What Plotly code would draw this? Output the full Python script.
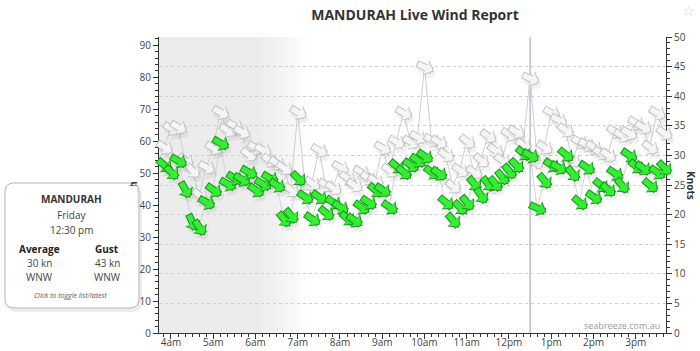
import math
import pandas as pd
import plotly.graph_objects as go

# ---------------- data ----------------
station = "MANDURAH"
chart_title = "MANDURAH Live Wind Report"
day_name = "Friday"
times = pd.date_range("2024-03-01 03:50", periods=72, freq="10min")

avg_kn = [28.4, 27.2, 29.1, 24.3, 18.8, 17.9, 22.1, 24.2, 32.1, 25.2,
          26.2, 26.0, 27.2, 24.2, 25.2, 26.2, 25.0, 19.3, 19.9, 26.2,
          23.0, 19.3, 23.0, 20.3, 22.1, 21.3, 19.4, 19.1, 21.3, 22.1,
          24.2, 24.2, 21.3, 28.2, 27.2, 28.4, 29.2, 29.9, 27.2, 27.0,
          22.1, 19.1, 21.3, 22.1, 25.3, 23.3, 25.3, 25.3, 26.4, 27.4,
          28.4, 30.4, 30.0, 21.1, 25.8, 28.4, 28.0, 30.2, 27.0, 22.1,
          28.0, 23.0, 25.0, 24.3, 27.0, 25.0, 30.1, 28.2, 27.9, 25.0,
          27.2, 28.0]

gust_kn = [31.4, 34.6, 34.8, 29.2, 27.5, 23.3, 28.0, 31.3, 37.3, 34.3,
           35.0, 34.0, 30.2, 31.3, 30.9, 29.2, 28.7, 27.9, 24.2, 37.3,
           25.3, 25.3, 30.9, 25.0, 24.5, 28.0, 26.2, 25.0, 27.2, 26.2,
           25.7, 31.3, 27.5, 32.3, 37.2, 32.3, 33.1, 44.9, 32.6, 32.3,
           30.1, 24.8, 27.5, 32.4, 27.2, 29.2, 33.3, 30.9, 29.2, 33.6,
           34.0, 31.8, 43.0, 29.2, 31.4, 37.2, 36.0, 34.3, 29.2, 32.3,
           31.8, 31.4, 30.4, 30.1, 34.1, 33.4, 33.8, 35.5, 34.8, 31.4,
           37.2, 33.8]

# direction the wind blows FROM (degrees)
avg_from = [310, 315, 300, 330, 335, 325, 300, 305, 300, 300,
            300, 300, 300, 305, 300, 300, 305, 320, 320, 315,
            305, 305, 305, 310, 305, 305, 310, 305, 305, 305,
            310, 305, 305, 310, 310, 305, 305, 305, 305, 305,
            310, 320, 315, 320, 320, 325, 320, 320, 320, 320,
            315, 310, 300, 295, 320, 305, 300, 310, 320, 310,
            305, 305, 310, 310, 305, 320, 305, 310, 305, 310,
            305, 315]
gust_from = [305, 300, 300, 310, 315, 310, 300, 300, 300, 300,
             300, 300, 305, 300, 300, 305, 305, 305, 310, 300,
             305, 305, 300, 305, 305, 300, 305, 305, 300, 305,
             305, 300, 305, 300, 300, 300, 300, 295, 300, 300,
             305, 310, 305, 310, 305, 310, 305, 305, 305, 300,
             300, 305, 295, 340, 305, 300, 300, 305, 305, 300,
             300, 305, 305, 305, 300, 300, 300, 300, 300, 305,
             300, 305]

hour_ticks = pd.date_range("2024-03-01 04:00", periods=12, freq="h")
hour_labels = ["4am", "5am", "6am", "7am", "8am", "9am", "10am", "11am",
               "12pm", "1pm", "2pm", "3pm"]
sel_index = 52          # 12:30 pm, the highlighted reading
sel_time_label = "12:30 pm"
sel_avg_dir = "WNW"
sel_gust_dir = "WNW"
KMH_PER_KNOT = 1.852
x_range = ["2024-03-01 03:43", "2024-03-01 15:43"]
night_solid_end = "2024-03-01 06:10"
night_fade_end = "2024-03-01 07:20"

# ---------------- layout geometry ----------------
W, H = 700, 351
ML, MR, MT, MB = 159, 34, 37, 18
PW, PH = W - ML - MR, H - MT - MB
FONT = "Open Sans"


def px(x):
    return (x - ML) / PW


def py(y):
    return (H - MB - y) / PH


def tstr(t):
    return pd.Timestamp(t).strftime("%Y-%m-%d %H:%M:%S")


fig = go.Figure()

# connecting lines
fig.add_trace(go.Scatter(x=times, y=gust_kn, mode="lines",
                         line=dict(color="#cfcfcf", width=1),
                         hoverinfo="skip", yaxis="y"))
fig.add_trace(go.Scatter(x=times, y=avg_kn, mode="lines",
                         line=dict(color="#d4d4d4", width=1),
                         hoverinfo="skip", yaxis="y"))
# km/h twin (invisible, just carries the left axis)
fig.add_trace(go.Scatter(x=times, y=[v * KMH_PER_KNOT for v in avg_kn],
                         mode="markers", marker=dict(opacity=0),
                         hoverinfo="skip", yaxis="y2"))

annotations = []


def arrow_annots(vals, dirs, fill, edge, shadow, L=20):
    out = []
    for t, v, d in zip(times, vals, dirs):
        th = math.radians((d + 180) % 360)
        sx, sy = math.sin(th), math.cos(th)
        ax, ay = -L * sx, L * sy
        xs, ys = L / 2 * sx, L / 2 * sy
        base = dict(x=tstr(t), y=v, xref="x", yref="y", text="",
                    showarrow=True, ax=ax, ay=ay, axref="pixel", ayref="pixel",
                    arrowhead=1)
        out.append(dict(base, xshift=xs + 2, yshift=ys - 4, arrowcolor=shadow,
                        arrowwidth=8, arrowsize=0.36))
        out.append(dict(base, xshift=xs, yshift=ys, arrowcolor=edge,
                        arrowwidth=7.5, arrowsize=0.37))
        out.append(dict(base, xshift=xs, yshift=ys, arrowcolor=fill,
                        arrowwidth=5.5, arrowsize=0.42, standoff=1.3,
                        startstandoff=1))
    return out


annotations += arrow_annots(gust_kn, gust_from, "#f5f5f5", "#c2c2c2",
                            "rgba(0,0,0,0.05)")
annotations += arrow_annots(avg_kn, avg_from, "#33ee33", "#1f8f1f",
                            "rgba(0,0,0,0.06)")

# axis titles
annotations.append(dict(text="<b>km/h</b>", xref="paper", yref="paper",
                        x=px(133), y=py(195), textangle=-90, showarrow=False,
                        xanchor="center", yanchor="middle",
                        font=dict(family=FONT, size=10, color="#333")))
annotations.append(dict(text="<b>Knots</b>", xref="paper", yref="paper",
                        x=px(691), y=py(185), textangle=90, showarrow=False,
                        xanchor="center", yanchor="middle",
                        font=dict(family=FONT, size=10, color="#333")))

# tooltip box
bx0, by0, bx1, by1, r = 5, 183, 139, 308, 9


def rrect(x0, y0, x1, y1, r):
    pts = [("M", [(x0 + r, y0)]), ("L", [(x1 - r, y0)]),
           ("Q", [(x1, y0), (x1, y0 + r)]), ("L", [(x1, y1 - r)]),
           ("Q", [(x1, y1), (x1 - r, y1)]), ("L", [(x0 + r, y1)]),
           ("Q", [(x0, y1), (x0, y1 - r)]), ("L", [(x0, y0 + r)]),
           ("Q", [(x0, y0), (x0 + r, y0)])]
    s = ""
    for cmd, pp in pts:
        s += cmd + " " + " ".join(f"{px(a):.5f},{py(b):.5f}" for a, b in pp) + " "
    return s + "Z"


shapes = []
# night shading
shapes.append(dict(type="rect", xref="x", yref="paper", x0=x_range[0],
                   x1=night_solid_end, y0=0, y1=1, layer="below",
                   fillcolor="#ececec", line=dict(width=0)))
t0 = pd.Timestamp(night_solid_end)
t1 = pd.Timestamp(night_fade_end)
n = 16
for k in range(n):
    a = t0 + (t1 - t0) * k / n
    b = t0 + (t1 - t0) * (k + 1) / n
    shapes.append(dict(type="rect", xref="x", yref="paper", x0=tstr(a),
                       x1=tstr(b), y0=0, y1=1, layer="below",
                       fillcolor="#ececec", opacity=1 - (k + 0.5) / n,
                       line=dict(width=0)))
# selected time line
shapes.append(dict(type="line", xref="x", yref="paper",
                   x0=tstr(times[sel_index]), x1=tstr(times[sel_index]),
                   y0=0, y1=1, layer="between",
                   line=dict(color="#8d9ec4", width=1)))
# tooltip shadow + box
shapes.append(dict(type="path", xref="paper", yref="paper",
                   path=rrect(bx0 + 2, by0 + 3, bx1 + 3, by1 + 4, r),
                   fillcolor="rgba(0,0,0,0.07)", line=dict(width=0),
                   layer="above"))
shapes.append(dict(type="path", xref="paper", yref="paper",
                   path=rrect(bx0, by0, bx1, by1, r),
                   fillcolor="white", line=dict(color="#b5b5b5", width=1),
                   layer="above"))

# cover for the part of the km/h title that sits behind the box
annotations.append(dict(text=" ", xref="paper", yref="paper",
                        x=px(bx1 - 10), y=py((by0 + by1) / 2), showarrow=False,
                        xanchor="center", yanchor="middle",
                        width=16, height=by1 - by0 - 6, bgcolor="white",
                        borderpad=0, borderwidth=0))


def t(txt, x, y, size=10, color="#333", bold=False, italic=False):
    if bold:
        txt = f"<b>{txt}</b>"
    if italic:
        txt = f"<i>{txt}</i>"
    annotations.append(dict(text=txt, xref="paper", yref="paper", x=px(x),
                            y=py(y), showarrow=False, xanchor="center",
                            yanchor="middle",
                            font=dict(family=FONT, size=size, color=color)))


t(station, 71, 199, 10, "#333", bold=True)
t(day_name, 71, 215, 10, "#444")
t(sel_time_label, 71, 230, 10, "#444")
t("Average", 39, 249, 10, "#222", bold=True)
t("Gust", 107, 249, 10, "#222", bold=True)
t(f"{round(avg_kn[sel_index])} kn", 39, 263, 10, "#444")
t(f"{round(gust_kn[sel_index])} kn", 107, 263, 10, "#444")
t(sel_avg_dir, 39, 277, 10, "#444")
t(sel_gust_dir, 107, 277, 10, "#444")
t("Click to toggle list/latest", 71, 295, 7, "#555", italic=True)

# watermark, star
annotations.append(dict(text="seabreeze.com.au", xref="paper", yref="paper",
                        x=px(662), y=py(325), xanchor="right", yanchor="middle",
                        showarrow=False,
                        font=dict(family=FONT, size=9, color="#9a9a9a")))
annotations.append(dict(text="☆", xref="paper", yref="paper",
                        x=px(688), y=py(11), showarrow=False,
                        xanchor="center", yanchor="middle",
                        font=dict(family="DejaVu Sans", size=15, color="#ddd8c4")))

axis_common = dict(showline=True, linecolor="#333", linewidth=1,
                   ticks="outside", ticklen=5, tickcolor="#333",
                   tickfont=dict(family=FONT, size=10, color="#444"),
                   zeroline=False, automargin=False)

fig.update_layout(
    width=W, height=H,
    margin=dict(l=ML, r=MR, t=MT, b=MB, pad=0, autoexpand=False),
    paper_bgcolor="white", plot_bgcolor="white",
    showlegend=False,
    title=dict(text=f"<b>{chart_title}</b>", x=px(415), xref="paper",
               xanchor="center", y=1 - 15 / H, yref="container",
               yanchor="middle",
               font=dict(family=FONT, size=14, color="#333"),
               automargin=False),
    xaxis=dict(axis_common, type="date", range=x_range,
               tickvals=[tstr(h) for h in hour_ticks], ticktext=hour_labels,
               showgrid=False, ticklabelstandoff=-5,
               minor=dict(dtick=600000, ticks="outside", ticklen=3,
                          tickcolor="#333", showgrid=False)),
    yaxis=dict(axis_common, side="right", range=[0, 50], dtick=5,
               showgrid=True, gridcolor="#cfcfcf", griddash="dot",
               gridwidth=1,
               minor=dict(dtick=1, ticks="outside", ticklen=3,
                          tickcolor="#333", showgrid=False)),
    yaxis2=dict(axis_common, side="left", overlaying="y",
                range=[0, 50 * KMH_PER_KNOT], dtick=10, showgrid=False,
                minor=dict(dtick=2, ticks="outside", ticklen=3,
                           tickcolor="#333", showgrid=False)),
    shapes=shapes,
    annotations=annotations,
)

fig.write_html("out.html")
